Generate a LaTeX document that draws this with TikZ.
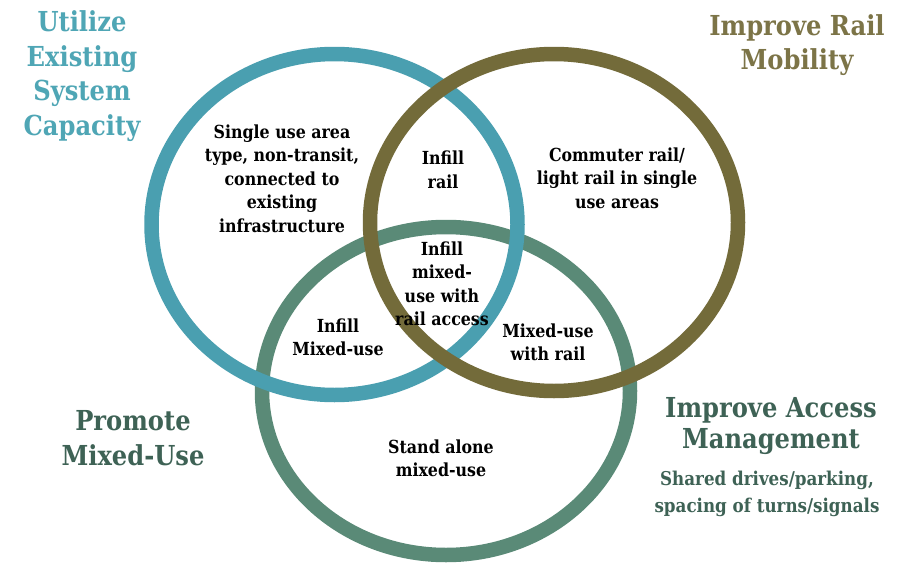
\documentclass[tikz,border=0pt]{standalone}
\usepackage{fontspec}
\setmainfont{DejaVu Serif}[FakeStretch=0.88]
\definecolor{ringblue}{HTML}{4A9FB0}
\definecolor{ringolive}{HTML}{736B3A}
\definecolor{ringgreen}{HTML}{5A8A77}
\definecolor{titleblue}{HTML}{4FA6B5}
\definecolor{titleolive}{HTML}{7C7447}
\definecolor{titlegreen}{HTML}{3E6255}
\tikzset{
  ring/.style={line width=14.5pt},
  title/.style={align=center, inner sep=0pt, font=\bfseries\fontsize{27.5}{34.7}\selectfont},
  inner/.style={align=center, inner sep=0pt, text=black, font=\bfseries\fontsize{18}{23.5}\selectfont},
}
\begin{document}
\begin{tikzpicture}[x=1pt,y=-1pt]
\useasboundingbox[fill=white] (0,0) rectangle (908,565);
% rings
\draw[ring, ringgreen] (446,391) ellipse [x radius=184, y radius=164];
\draw[ring, ringblue] (334.5,224.5) ellipse [x radius=183, y radius=170.5];
\draw[ring, ringolive] (554,222.5) ellipse [x radius=184, y radius=168.5];
% titles
\node[title, text=titleblue] (utilize) at (82,76) {Utilize\\Existing\\System\\Capacity};
\node[title, text=titleolive] (rail) at (797,45) {Improve Rail\\Mobility};
\node[title, text=titlegreen] (promote) at (133,438) {Promote\\Mixed-Use};
\node[title, text=titlegreen, font=\bfseries\fontsize{27.5}{31}\selectfont] (access) at (771,426) {Improve Access\\Management};
\node[title, text=titlegreen, font=\bfseries\fontsize{19}{26.7}\selectfont] (shared) at (767,494) {Shared drives/parking,\\spacing of turns/signals};
% region labels
\node[inner] (single) at (282,178.5) {Single use area\\type, non-transit,\\connected to\\existing\\infrastructure};
\node[inner] (infillrail) at (443,170) {Infill\\rail};
\node[inner] (commuter) at (617,178) {Commuter rail/\\light rail in single\\use areas};
\node[inner] (center) at (442,284) {Infill\\mixed-\\use with\\rail access};
\node[inner] (infillmixed) at (338,337.5) {Infill\\Mixed-use};
\node[inner] (mixedrail) at (548,342.5) {Mixed-use\\with rail};
\node[inner] (standalone) at (441,458.5) {Stand alone\\mixed-use};
\end{tikzpicture}
\end{document}
